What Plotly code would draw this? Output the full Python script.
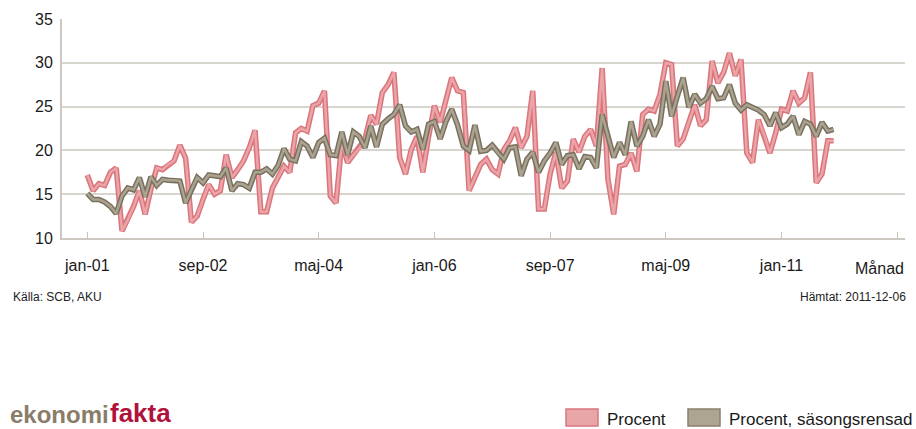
import plotly.graph_objects as go

# ---- data ----
month_names = ["jan", "feb", "mar", "apr", "maj", "jun", "jul", "aug", "sep", "okt", "nov", "dec"]
years = list(range(2001, 2012))
n_months = 130  # jan-01 .. okt-11
months = [f"{month_names[k % 12]}-{str(years[k // 12])[2:]}" for k in range(n_months)]

procent = [
    17.2, 15.4, 16.2, 16.0, 17.5, 18.0, 10.8, 12.1, 13.6, 15.4,
    12.7, 15.6, 18.0, 17.8, 18.4, 18.8, 20.6, 19.1, 11.8, 12.5,
    14.4, 16.1, 15.0, 15.4, 19.5, 16.9, 17.8, 18.8, 20.3, 22.3,
    13.0, 13.0, 15.7, 16.9, 18.2, 17.5, 22.0, 22.5, 22.2, 25.1,
    25.4, 26.8, 14.8, 14.0, 21.0, 18.6, 19.5, 20.2, 21.3, 24.0,
    23.0, 26.6, 27.5, 28.9, 19.2, 17.3, 20.1, 21.6, 17.5, 21.6,
    25.1, 23.2, 25.6, 28.3, 26.8, 26.6, 15.4, 16.9, 18.4, 19.0,
    17.8, 17.3, 20.1, 21.1, 22.6, 20.3, 21.6, 26.8, 13.3, 13.3,
    17.3, 19.8, 15.7, 16.5, 21.3, 19.8, 21.6, 22.4, 20.5, 29.4,
    16.7, 12.7, 18.2, 18.4, 19.7, 17.6, 24.1, 24.7, 24.5, 26.4,
    30.0, 29.8, 20.5, 21.3, 23.3, 25.2, 22.8, 23.5, 30.2, 27.7,
    28.9, 31.1, 28.5, 30.4, 19.7, 18.6, 23.5, 21.8, 19.7, 22.0,
    24.7, 24.5, 26.8, 25.4, 26.0, 28.9, 16.3, 17.3, 21.1, 21.1,
]
sasongsrensad = [
    15.1, 14.4, 14.4, 14.1, 13.6, 12.8, 14.8, 15.7, 15.5, 16.9,
    14.7, 17.0, 16.0, 16.7, 16.6, 16.6, 16.5, 14.0, 15.5, 16.9,
    16.3, 17.2, 17.1, 17.0, 18.0, 15.4, 16.2, 16.1, 15.7, 17.5,
    17.5, 17.9, 17.3, 18.3, 20.2, 19.0, 18.8, 21.0, 20.5, 19.2,
    20.9, 21.4, 19.5, 19.4, 22.1, 19.5, 22.1, 21.6, 20.3, 22.8,
    20.4, 23.0, 23.6, 24.1, 25.2, 22.8, 22.1, 22.4, 20.1, 23.0,
    23.3, 21.3, 23.3, 24.7, 22.9, 20.5, 20.0, 22.9, 19.9, 20.0,
    20.6, 19.7, 19.0, 20.3, 20.4, 17.1, 19.0, 19.8, 17.5, 18.8,
    19.7, 20.9, 18.4, 19.4, 19.5, 17.9, 19.3, 19.2, 18.0, 24.1,
    21.6, 19.2, 20.9, 19.5, 23.3, 20.5, 21.6, 23.5, 21.6, 23.0,
    27.9, 23.9, 26.2, 28.3, 24.9, 26.4, 25.4, 25.9, 27.3, 25.9,
    26.0, 27.5, 25.4, 24.6, 25.2, 24.9, 24.6, 24.1, 22.8, 24.3,
    22.6, 23.0, 23.9, 21.8, 23.3, 23.0, 21.6, 23.2, 22.2, 22.4,
]
series_names = ["Procent", "Procent, säsongsrensad"]
tick_step = 20
y_ticks = [10, 15, 20, 25, 30, 35]

# ---- figure ----
W, H = 916, 429
PL, PR, PT, PB = 62, 905, 19, 238          # plot area in window pixels
ML, MT = PL, PT
MR, MB = W - PR, H - PB
PW, PH = PR - PL, PB - PT

def px_x(px):
    return (px - PL) / PW

def px_y(py):
    return (PB - py) / PH

x = list(range(n_months))
tickvals = list(range(0, 141, tick_step))
ticktext = [months[v] if v < n_months else "" for v in tickvals]

RED_OUT, RED_IN = "#da757c", "#eba4a7"
GRY_OUT, GRY_IN = "#79715f", "#aba290"

fig = go.Figure()
for y, cout, cin in [(procent, RED_OUT, RED_IN), (sasongsrensad, GRY_OUT, GRY_IN)]:
    fig.add_trace(go.Scatter(x=x, y=y, mode="lines", line=dict(color=cout, width=5.5),
                             hoverinfo="skip", showlegend=False))
    fig.add_trace(go.Scatter(x=x, y=y, mode="lines", line=dict(color=cin, width=2.5),
                             showlegend=False))

FONT = "Liberation Sans, Arial, sans-serif"
GRID = "#d8d4ce"
X0, DX = 87.3, 5.785   # window pixel of jan-01, pixels per month

fig.update_layout(
    width=W, height=H,
    margin=dict(l=ML, r=MR, t=MT, b=MB, autoexpand=False),
    paper_bgcolor="white", plot_bgcolor="white",
    font=dict(family=FONT, color="#1a1a1a"),
    showlegend=False,
    xaxis=dict(
        range=[(PL - X0) / DX, (PR - X0) / DX],
        tickmode="array", tickvals=tickvals, ticktext=ticktext,
        ticks="inside", ticklen=6, tickwidth=1, tickcolor="#c8c3bc",
        showgrid=False, zeroline=False,
        showline=True, linecolor="#ccc8c1", linewidth=2,
        tickfont=dict(size=16, color="#1a1a1a", family=FONT),
        ticklabelstandoff=12,
        fixedrange=True,
    ),
    yaxis=dict(
        range=[10, 35], tickmode="array", tickvals=y_ticks,
        showgrid=True, gridcolor=GRID, gridwidth=1.5,
        zeroline=False, showline=True, linecolor="#ccc8c1", linewidth=2,
        ticks="", tickfont=dict(size=16, color="#1a1a1a", family=FONT),
        ticklabelstandoff=4,
        fixedrange=True,
    ),
)

ann = []
ann.append(dict(text="Månad", x=px_x(906), y=px_y(268), xanchor="right", yanchor="middle",
                font=dict(size=16, color="#1a1a1a")))
ann.append(dict(text="Källa: SCB, AKU", x=px_x(11), y=px_y(297), xanchor="left", yanchor="middle",
                font=dict(size=12, color="#222")))
ann.append(dict(text="Hämtat: 2011-12-06", x=px_x(908), y=px_y(297), xanchor="right", yanchor="middle",
                font=dict(size=12, color="#222")))
# logo
ann.append(dict(text="<b>ekonomi</b>", x=px_x(9), y=px_y(428.5), xanchor="left", yanchor="bottom",
                borderpad=0, font=dict(size=24, family=FONT, color="#8a7c68")))
ann.append(dict(text="<b>fakta</b>", x=px_x(109), y=px_y(428.5), xanchor="left", yanchor="bottom",
                borderpad=0, font=dict(size=26, family=FONT, color="#b0123b")))
# legend
leg = [(566, 605, series_names[0], "#e8a6a8", "#d9777d"),
       (688, 727, series_names[1], "#ada491", "#8a806c")]
shapes = []
for sx, tx, name, fill, border in leg:
    shapes.append(dict(type="rect", xref="paper", yref="paper",
                       x0=px_x(sx), x1=px_x(sx + 32), y0=px_y(426), y1=px_y(409),
                       fillcolor=fill, line=dict(color=border, width=1.5)))
    ann.append(dict(text=name, x=px_x(tx), y=px_y(419), xanchor="left", yanchor="middle",
                    font=dict(size=17, color="#1a1a1a")))
for a in ann:
    a.update(xref="paper", yref="paper", showarrow=False)
fig.update_layout(annotations=ann, shapes=shapes)

fig.write_html("out.html", config={"displayModeBar": False},
               post_script="document.body.style.margin='0';document.body.style.overflow='hidden';")
